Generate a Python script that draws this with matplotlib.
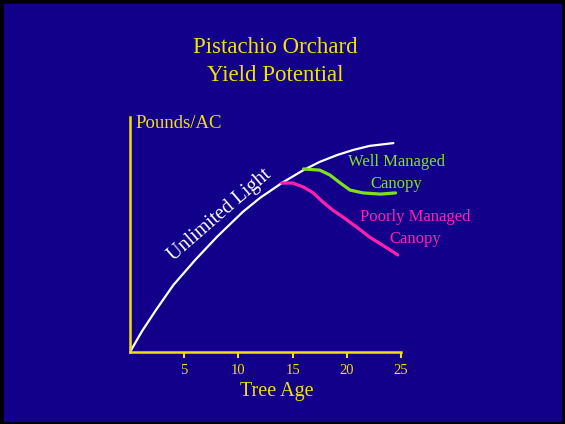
import matplotlib
matplotlib.use("Agg")
import matplotlib.pyplot as plt
from matplotlib.patches import Rectangle

# Yield curves (x = tree age, y = relative pounds/acre)
unlimited_age = [0, 1.1, 2.4, 4.0, 6.0, 8.0, 10.4, 12.0, 14.1, 16.0, 17.5, 19.1, 20.6, 22.1, 24.3]
unlimited_yield = [0, 8.8, 17.9, 28.5, 39.1, 48.9, 59.6, 65.6, 72.2, 77.4, 80.9, 83.8, 86.0, 87.7, 88.9]

well_age = [16.0, 17.5, 18.45, 19.4, 20.3, 21.5, 23.1, 24.5]
well_yield = [77.9, 77.4, 75.3, 71.9, 68.9, 67.7, 67.2, 67.7]

poor_age = [14.0, 15.0, 16.0, 16.9, 17.8, 18.7, 19.65, 20.9, 22.1, 23.7, 24.7]
poor_yield = [71.9, 71.9, 70.2, 67.7, 63.8, 60.4, 57.4, 53.2, 48.9, 44.3, 41.3]

age_ticks = [5, 10, 15, 20, 25]

BLUE = '#12008a'
YELLOW = '#f0e010'
GREEN = '#80e020'
PINK = '#ff20b0'

plt.rcParams['font.family'] = ['Liberation Serif', 'DejaVu Serif']

fig = plt.figure(figsize=(5.65, 4.24), dpi=100, facecolor='black')
# blue slide panel inside a thin black frame
fig.patches.append(Rectangle((4 / 565, 3 / 424), 557 / 565, 417 / 424,
                             transform=fig.transFigure, color=BLUE, zorder=-10))

ax = fig.add_axes([130 / 565, 72 / 424, 271 / 565, 235 / 424])
ax.set_facecolor('none')
ax.set_xlim(0, 25)
ax.set_ylim(0, 100)

# lines
ax.plot(unlimited_age, unlimited_yield, color='white', lw=1.6,
        solid_capstyle='round', solid_joinstyle='round')
ax.plot(well_age, well_yield, color=GREEN, lw=2.3,
        solid_capstyle='round', solid_joinstyle='round')
ax.plot(poor_age, poor_yield, color=PINK, lw=2.3,
        solid_capstyle='round', solid_joinstyle='round')

# axes styling
for side in ['top', 'right']:
    ax.spines[side].set_visible(False)
for side in ['left', 'bottom']:
    ax.spines[side].set_color(YELLOW)
    ax.spines[side].set_linewidth(1.8)
ax.set_yticks([])
ax.set_xticks(age_ticks)
ax.set_xticklabels([str(t) for t in age_ticks])
ax.tick_params(axis='x', colors=YELLOW, length=4.5, width=1.5, labelsize=10.5, pad=4)

# annotations
ax.text(8.3, 58.3, 'Unlimited Light', color='white', fontsize=14.5,
        rotation=41, rotation_mode='anchor', ha='center', va='center')
ax.text(24.6, 76.2, 'Well Managed\nCanopy', color=GREEN, fontsize=12,
        ha='center', va='center', linespacing=1.45, clip_on=False)
ax.text(26.3, 52.8, 'Poorly Managed\nCanopy', color=PINK, fontsize=12,
        ha='center', va='center', linespacing=1.45, clip_on=False)

# titles
fig.text(0.487, 0.889, 'Pistachio Orchard', color=YELLOW, fontsize=16.5, ha='center', va='center')
fig.text(0.487, 0.821, 'Yield Potential', color=YELLOW, fontsize=16.5, ha='center', va='center')
fig.text(0.239, 0.708, 'Pounds/AC', color=YELLOW, fontsize=13.5, ha='left', va='center')
fig.text(0.490, 0.076, 'Tree Age', color=YELLOW, fontsize=14.5, ha='center', va='center')

fig.savefig('out.png', dpi=100, facecolor='black')
